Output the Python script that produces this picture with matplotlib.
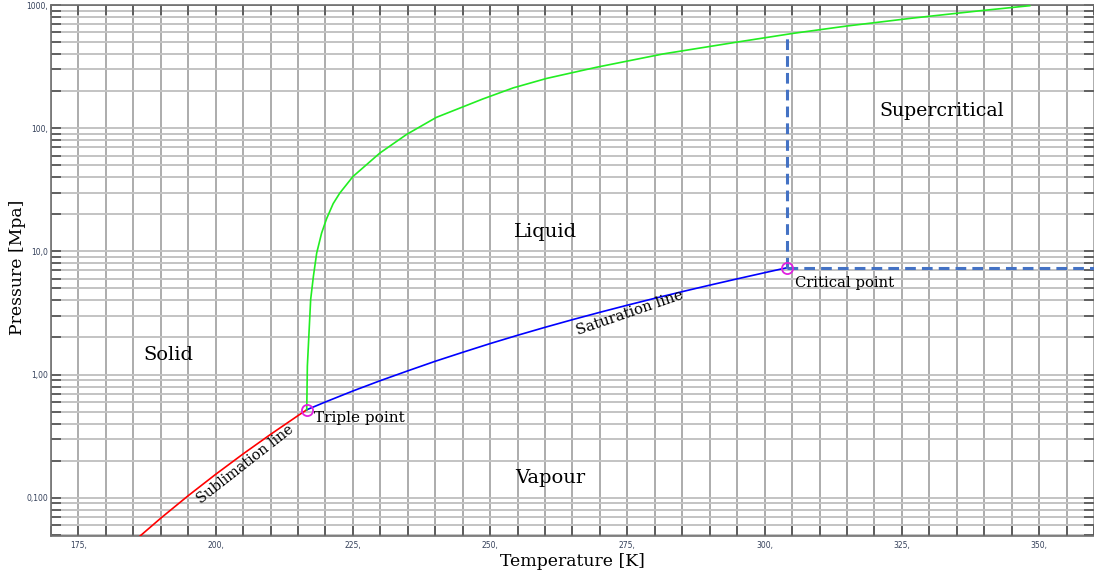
import numpy as np
import matplotlib.pyplot as plt
from matplotlib.ticker import FixedLocator, NullFormatter

# Puntos característicos del CO2
T_triple, p_triple = 216.59, 0.518
T_crit, p_crit = 304.13, 7.377

# Línea de sublimación (sólido - vapor)
T_sub = [185.0, 190.0, 195.0, 200.0, 205.0, 210.0, 215.0, 216.59]
p_sub = [0.0439, 0.0683, 0.104, 0.155, 0.227, 0.327, 0.4645, 0.518]

# Línea de saturación (líquido - vapor)
T_sat = [216.59, 220.0, 225.0, 230.0, 235.0, 240.0, 245.0, 250.0, 255.0,
         260.0, 265.0, 270.0, 275.0, 280.0, 285.0, 290.0, 295.0, 300.0, 304.13]
p_sat = [0.518, 0.5996, 0.7361, 0.8929, 1.0722, 1.2825, 1.516, 1.785, 2.0843,
         2.4188, 2.7909, 3.2033, 3.6589, 4.1607, 4.7123, 5.3177, 5.9822, 6.7131, 7.377]

# Línea de fusión (sólido - líquido)
T_fus = [216.59, 216.7, 217.0, 217.3, 217.8, 218.4, 219.3, 220.2, 221.4, 222.6, 225.0,
         229.9, 234.8, 240.2, 248.7, 254.2, 260.3, 269.4, 281.5, 294.9, 305.2,
         314.9, 327.0, 339.2, 348.3]
p_fus = [0.518, 1.17, 2.18, 4.06, 6.27, 9.70, 14.1, 18.4, 24.4, 29.7, 40.5,
         62.8, 89.1, 122.4, 172.9, 212.4, 253.6, 312.5, 400.6, 499.4, 588.6,
         674.5, 783.2, 897.6, 987.2]

x_ticks = [175, 200, 225, 250, 275, 300, 325, 350]
x_labels = ['175,', '200,', '225,', '250,', '275,', '300,', '325,', '350,']
y_ticks = [0.1, 1, 10, 100, 1000]
y_labels = ['0,100', '1,00', '10,0', '100,', '1000,']

serif = 'DejaVu Serif'
tick_color = '#34405a'

fig = plt.figure(figsize=(10.94, 5.74), dpi=100)
ax = fig.add_axes([51 / 1094, 38.3 / 574, 1 - 51 / 1094, (574 - 5 - 38.3) / 574])

ax.set_xlim(170, 360)
ax.set_yscale('log')
ax.set_ylim(0.0492, 1000)

# Rejilla: cada 5 K y en cada subdivisión de la escala logarítmica
for T in np.arange(170, 361, 5):
    ax.axvline(T, color='#a6a6a6', lw=1.3, zorder=0)
for dec in [0.01, 0.1, 1, 10, 100]:
    for m in range(1, 10):
        p = dec * m
        if 0.0492 < p <= 1000:
            ax.axhline(p, color='#c3c3c3', lw=1.4, zorder=0)
ax.axhline(1000, color='#8a8a8a', lw=1.4, zorder=0)

# Curvas de equilibrio
ax.plot(T_sub, p_sub, color='#ff0000', lw=1.2, zorder=3)
ax.plot(T_sat, p_sat, color='#0000ff', lw=1.2, zorder=3)
ax.plot(T_fus, p_fus, color='#22ee22', lw=1.2, zorder=3)

# Límites de la región supercrítica
p_top = np.exp(np.interp(T_crit, T_fus, np.log(p_fus)))
ax.plot([T_crit, T_crit], [p_crit, p_top], color='#4472c4', lw=2.2,
        ls=(0, (3.5, 2)), zorder=4)
ax.plot([T_crit, 360], [p_crit, p_crit], color='#4472c4', lw=2.2,
        ls=(0, (3.5, 2)), zorder=4)

# Punto triple y punto crítico
ax.plot([T_triple, T_crit], [p_triple, p_crit], 'o', ms=8, mfc='none',
        mec='#e020e0', mew=1.3, zorder=5)

ax.text(T_triple + 1.4, p_triple * 0.86, 'Triple point', fontsize=11.1,
        family=serif, va='center', ha='left')
ax.text(T_crit + 1.4, p_crit * 0.75, 'Critical point', fontsize=10.6,
        family=serif, va='center', ha='left')
ax.text(275.4, 3.18, 'Saturation line', fontsize=10.6, family=serif,
        rotation=19, ha='center', va='center')
ax.text(205.3, 0.186, 'Sublimation line', fontsize=10.4, family=serif,
        rotation=38, ha='center', va='center')

ax.text(332.2, 138, 'Supercritical', fontsize=13.6, family=serif, ha='center', va='center')
ax.text(260.1, 14.4, 'Liquid', fontsize=14, family=serif, ha='center', va='center')
ax.text(191.3, 1.43, 'Solid', fontsize=14, family=serif, ha='center', va='center')
ax.text(260.9, 0.146, 'Vapour', fontsize=14, family=serif, ha='center', va='center')

# Ejes y marcas
ax.xaxis.set_major_locator(FixedLocator(x_ticks))
ax.xaxis.set_minor_locator(FixedLocator(np.arange(170, 361, 5)))
ax.set_xticklabels(x_labels)
ax.xaxis.set_minor_formatter(NullFormatter())
ax.yaxis.set_major_locator(FixedLocator(y_ticks))
minor_y = [d * m for d in [0.01, 0.1, 1, 10, 100] for m in range(2, 10)]
ax.yaxis.set_minor_locator(FixedLocator(minor_y))
ax.set_yticklabels(y_labels)
ax.yaxis.set_minor_formatter(NullFormatter())

ax.tick_params(axis='x', which='both', direction='in', top=True, length=7,
               width=1.2, color='#505050', labelsize=5.5, labelcolor=tick_color, pad=4)
ax.tick_params(axis='y', which='both', direction='in', right=True, length=7,
               width=1.2, color='#505050', labelsize=5.5, labelcolor=tick_color, pad=2)

for side in ['left', 'bottom', 'top']:
    ax.spines[side].set_color('#707070')
    ax.spines[side].set_linewidth(1.2)
ax.spines['right'].set_visible(False)

ax.set_xlabel('Temperature [K]', fontsize=12.4, family=serif, labelpad=2)
ax.set_ylabel('Pressure [Mpa]', fontsize=12.4, family=serif)
ax.yaxis.set_label_coords(-0.024, 0.506)

fig.savefig('out.png', dpi=100)
